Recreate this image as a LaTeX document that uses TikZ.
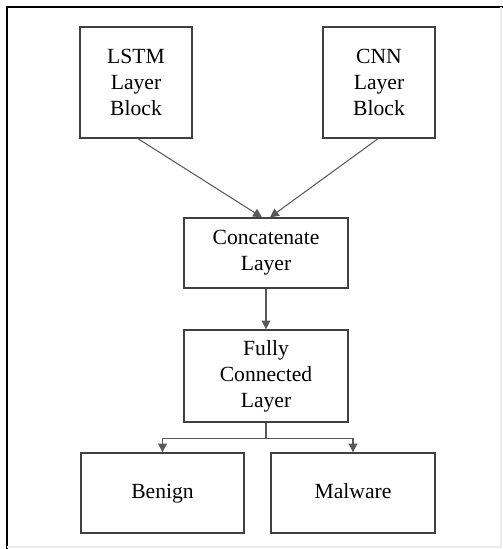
\documentclass[tikz,border=0pt]{standalone}
\usepackage{fontspec}
\setmainfont{Liberation Serif}
\newfontfamily\textoserif{Liberation Serif}
\usetikzlibrary{arrows.meta}

\begin{document}
\begin{tikzpicture}[x=0.02cm,y=-0.02cm,
    bloque/.style={draw=black!75,line width=0.8pt,align=center,inner sep=0pt,
        font=\textoserif\fontsize{12.3}{14.8}\selectfont},
    flecha/.style={draw=black!65,line width=0.6pt,-{Triangle[length=5pt,width=5pt]}}]
    \useasboundingbox (0,0) rectangle (503,549);

    % marco
    \draw[line width=1.1pt] (503,7) -- (7,7) -- (7,549);
    \draw[black!8,line width=0.6pt] (501,7) -- (501,547) -- (7,547);

    % bloques de entrada
    \node[bloque,minimum width=2.24cm,minimum height=2.22cm] (lstm) at (136,82.5) {LSTM\\Layer\\Block};
    \node[bloque,minimum width=2.24cm,minimum height=2.22cm] (cnn) at (379,82.5) {CNN\\Layer\\Block};

    % capas centrales
    \node[bloque,minimum width=3.28cm,minimum height=1.4cm] (concat) at (266,253) {Concatenate\\Layer};
    \node[bloque,minimum width=3.28cm,minimum height=1.84cm] (fully) at (266,376) {Fully\\Connected\\Layer};

    % salidas
    \node[bloque,minimum width=3.26cm,minimum height=1.6cm] (benign) at (162.5,493) {\strut Benign};
    \node[bloque,minimum width=3.28cm,minimum height=1.6cm] (malware) at (353,493) {\strut Malware};

    % flechas
    \draw[flecha] ([xshift=0.04cm]lstm.south) -- ([xshift=-0.08cm]concat.north);
    \draw[flecha] ([xshift=-0.02cm]cnn.south) -- ([xshift=0.08cm]concat.north);
    \draw[flecha] (concat) -- (fully);
    \coordinate (rama) at ([yshift=-0.32cm]fully.south);
    \draw[draw=black!65,line width=0.6pt] (fully.south) -- (rama);
    \draw[flecha] (rama) -| (benign.north);
    \draw[flecha] (rama) -| (malware.north);
\end{tikzpicture}
\end{document}
